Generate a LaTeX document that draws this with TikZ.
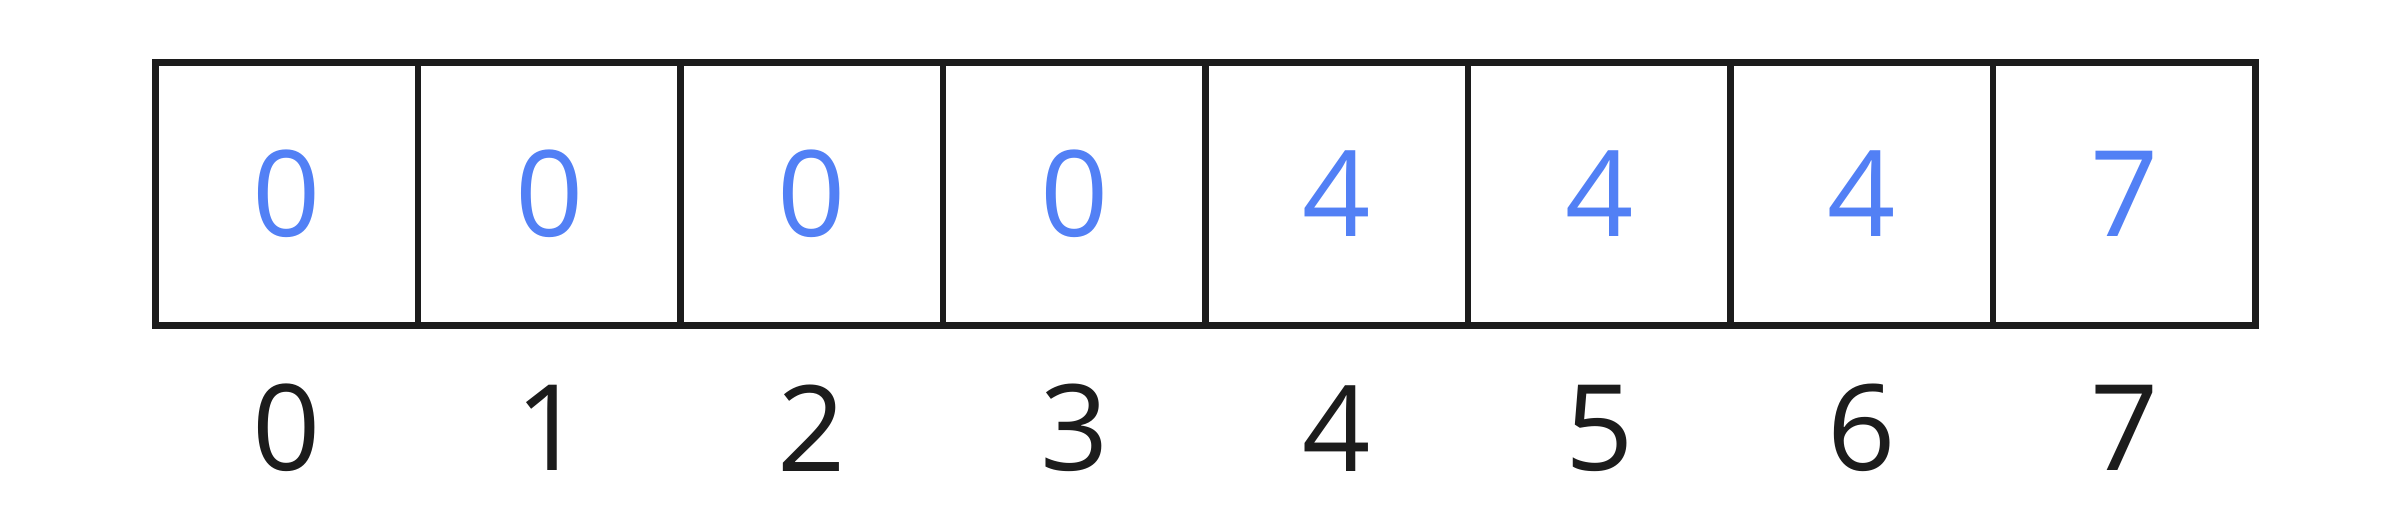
\documentclass[tikz,border=0pt]{standalone}
\usepackage{fontspec}
\setmainfont{Open Sans}
\usetikzlibrary{positioning}

\definecolor{valblue}{RGB}{82,128,245}
\definecolor{inkblack}{RGB}{28,28,28}

\tikzset{
  cellbox/.style={draw=inkblack, line width=1.9pt, line join=miter, minimum size=2.625cm, inner sep=0pt, outer sep=0pt, text=valblue, font=\fontsize{34}{40}\selectfont},
  idxlabel/.style={inner sep=0pt, text=inkblack, font=\fontsize{34}{40}\selectfont}
}

\begin{document}
\begin{tikzpicture}[line cap=round,line join=round]
    \useasboundingbox (0,0) rectangle (24.08,5.2);

    % Cells
    \node[cellbox] (cell0) at (2.8675,3.26) {0};
    \foreach \i/\prev/\val in {1/0/0, 2/1/0, 3/2/0, 4/3/4, 5/4/4, 6/5/4, 7/6/7} {
      \node[cellbox, right=0pt of cell\prev] (cell\i) {\val};
    }

    % Indices
    \foreach \i in {0,...,7} {
      \node[idxlabel] (idx\i) at ([yshift=-1.03cm]cell\i.south) {\i};
    }

\end{tikzpicture}
\end{document}
